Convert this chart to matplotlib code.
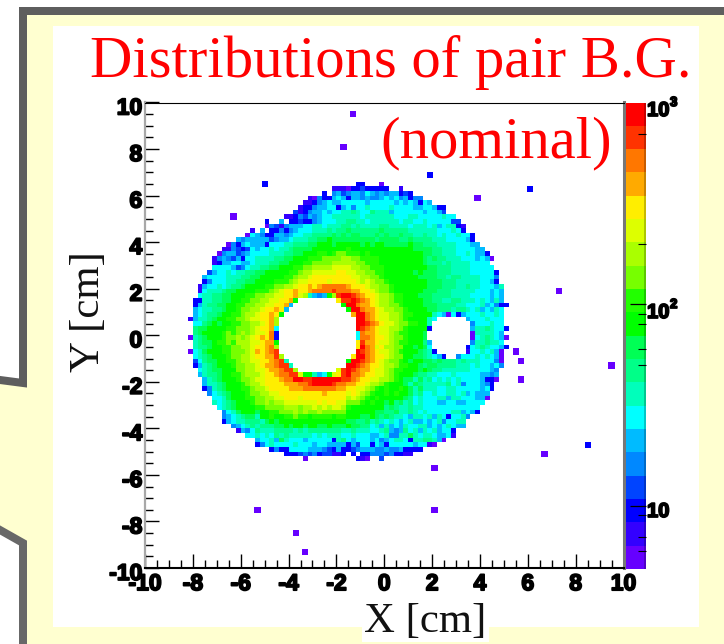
import numpy as np
import matplotlib
matplotlib.use("Agg")
import matplotlib.pyplot as plt
import matplotlib.patheffects as pe
from matplotlib.colors import ListedColormap, LogNorm
from matplotlib.patches import Polygon, Rectangle
from matplotlib.lines import Line2D
from matplotlib.transforms import ScaledTranslation

W, H = 724, 644

# ---- data: colour band of each histogram cell ---------------------------
# a (lowest band) ... t (highest band), '.' = empty bin
band_codes = "abcdefghijklmnopqrst"
band_colors = ["#6600ff", "#3300ff", "#0000ff", "#0044ff", "#0088ff", "#00bbff", "#00ffff",
               "#00ffbb", "#00ff88", "#00ff55", "#00ff00", "#22ff00", "#77ff00", "#aaff00",
               "#ddff00", "#ffee00", "#ffaa00", "#ff7700", "#ff3300", "#ff0000"]
z_min, z_max = 4.88, 1000.0

# first occupied column of each left-hand row (column 0 is x = -8.2 cm)
left_first = [0, 30, 28, 25, 24, 23, 22, 20, 16, 16, 13, 12, 10, 8, 7, 6, 5, 5, 5, 4,
              3, 3, 2, 2, 2, 1, 1, 1, 1, 0, 1, 1, 1, 0, 1, 1, 0, 1, 1, 1,
              2, 2, 3, 3, 3, 4, 5, 5, 6, 7, 7, 7, 9, 10, 12, 14, 14, 17, 20, 24]
left_rows = [
    "", "bbb", "c.efd", "baeccfgf", "bbcefgffg", "bcceffggcf", "dbceffgfggh", "bbcedfefgghhh",
    "c..f.ccdccefggghh", "aedbefffgghhghhhi", "b.f.ccecefggghhhihii", "agfeccffefgghhiiiijij",
    "fefffffdeffghhhiijjkjjj", "aecfgfffcggghhiiijjkkkjkk", "bbedcdgfgghghhijjjjkkkkkkk",
    "aeffdefgggghhhiijjkkkllklmm", "befedfcgghhhhiijjkkklllmmmmn", "bcffggffghhhiijjkkkllmmmmnnn",
    "ggggfdeghhiijjkkkllmmnnnnooo", "dfgghghhiijjkkkkkllmnnooooopp",
    "fgggghhhiijjkkkkkllmnnoppppppp", "ceggghhiijjkkkklllmnooppppoppp",
    "bfgghghiijkkkkllmmnnoppqpqrrrrr", "bghhhijjkkkklllmnoppqppqrrrrsrr",
    "ghhiijjkkkllmmnnoopp" + "qonhfefknst", "cchhiijjkkllmmnnoopp" + "qk........ps",
    "cfhiijjkkllmmnnooppq" + "f..........k", "fghhiijkklmmnnoppqpf", "fghiijkkllmnnoppqpk",
    "bfhhijkkllmmnooppqn", "ggijkjkkllmmnnopqn", "ijjkkkkllmmmnoppqg", "ijkkkklmlmnmnooprc",
    "ahijkkklmmnmnopqprc", "hijjkllmlnnnoopqqk", "hiijkkllmmnnoppqrn", "aghjkkkllmmmnoqpqrs",
    "ghijkkklmmnnoppqqsn", "dgijjkkllmnnooppqrsh", "cfhijkkklmmnnopqqrssh",
    "ghijjkkkmmnnoopqqrss" + "n........os", "fhiijkkllmnnnoppqrrs" + "sokkhfgkops",
    "fhijkkklmmnoopppqrrt" + "tsstttttts", "fhhijkkklmnnoppppqqqrrsttttsrr",
    "cehijkkkllmnnoppppqqqrrrrrrrqq", "eghijkkklmmnnooppppp" + "ppppqpppp",
    "gghjkkkllmmnnoopppop" + "pppppppp", "hghijkkklmmnmnnooooo" + "oopoppoo",
    "ghijkkkkllmmmmnnnmnn" + "ononoon", "eghjkkkjkkllmmmnmnmm" + "nmmmmm",
    "efghijjhkklkkllmllkl" + "lllkll", "cfghhiiihjkjkkkkkkkk" + "kkkkkk",
    "efghihiiijjkjkkjkkjj" + "kjjj", "bfegihhhiiiihihiiiii" + "iih", "gghghgihihhhhhghghhh" + "g",
    "fgghfjhgggfgggggchi", "ceghgggghgggfggffff", "ceccggggfffedcfc", "cccdedecddbbc", "a",
]
# right-hand rows start at column 33
right_rows = [
    "..cc...a", "accdccccc..b", "effegfefeffcdc", "cffefeefgfgefcee", "ggggfgggggfgfgfcgf",
    "geggh" + "ggggh" + "ggggf" + "fggfcc", "hihggihhhfggggggfggfd", "hhhghhhhhhggghhggggghgg",
    "iihhghhhhhhghhgghgggggdd", "ihihhhhiihhhhghhhghfghhcb", "jiiiiiijiiiiihhhhhhggghgc",
    "ijjiiijijiijiihhihhghgghggc", "jjjjjjijjjjiijiiiihhhggggfc", "kkkjkjkkjjjjjkjjiiihhhhgggff",
    "lkkkkkkkkkkkkkjjjjiihhhggggff", "lllklkkkkkkkkkkkjjiihhhgghgffc",
    "nmmllllkkkkkkkkkjijiihhhgggfgfa", "nnmmlllkkkkkkkkkjiiihihhhhgggg",
    "onnmmlllkkkkkkkkkjjiiihhhhggggg", "oonnmmllkkkkkkjkjjjiiihhhhgggggc",
    "poonnmmlkkkkkkkjjjjiihiihhhhggge", "ppononmmlkkkkkkkkjjjiiihhhhhggfc",
    "qppponnmmlkkkkkkkjjjiiihhihhgggfh", "rqqpponmmlkkkkkkjjjiiihhhhhgggfgf",
    "tsrqpponnmllkkkjjjiiiihhhhggggfgf", "stsrqponnmllkkkkjjiihhiihhhghgfhf",
    "ttrqqponnmmlkkkkjjjiiiihhggghfgecc", "kttrqqponnmmlkkkkjjiiihiihghfgfhg",
    ".qttrqpoon" + "nmllkkkkhg" + "fagcfg" + "gghgghg",
    "..ttrqpoon" + "nmlkkkkhg" + "......" + "f" + "ggghggg",
    "..ttsrqpoonmmllkkh" + "........" + "eggghgg",
    "..tsrqpoon" + "nmlkkkkc" + "........" + "fhhihggc",
    "..grqqpoonmllkkkj" + "........." + "ahhhhgf",
    "..grrqpponmmlkkkj" + "........." + "aghihgfa",
    "..psqqpoon" + "mllkkkif" + "........" + "ehhihhg",
    "..ptrqopnn" + "mmkkjkjg" + "......." + "c" + "ghihggfc",
    "..tsrqpoon" + "mlkkkjihc" + "......" + "bgghghfa",
    ".pttrqppon" + "mmkkjjihgf" + "c..eg" + "gghghgfa",
    "kttsrqponmmlkjkkjjijiiihihhhggge" + "a", "ttsrqpponnmllkkjijjiiiihhhghggfge",
    "tsrqqpoonmllkkkjkjiihhhhhhggggfe", "trrqppoonmlkkkjiihhggghgggggffef",
    "srqppoonnmlkjjhjhighghghggggfcca", "qqpponnmlkkkjhjihhhhhighegggfec",
    "ppoonmlklkklkjhjhhhgghhgggggfgc", "oponmlkklklkkjhigghgghhghfgfff",
    "nonmlklkkkkkjighggghhfhhgggffa", "mmmlklkkjkijhighgggffggffgggg",
    "lkkkkkkkijihhihhgggggggggggg", "kkkkkkjjiijhhihghggggghhfgfc",
    "kkkjjkjijihhgfhhghfhgcgghe", "jjiijhihghgfghffgfghegghh", "kjjiighfhfgfhgghhfgfghgff",
    "hihhhgghifefighfhghfggc", "ghgggffgheehhjhghhgffgb", "gfgggfgefghhgchhiihfa",
    "cfdggcgfcgggggfggba", "cdefffeefeefcccc", ".c.cceeedeccbb", "..cba..d",
]
# isolated single hits outside the main blob
outlier_x = [-1.3, -1.7, -5.0, -6.3, 1.9, 6.1, 3.9, 7.3, 5.5, 5.7, 9.5, 5.7, 8.5, 6.7, 2.1, 2.1, -5.3, -3.7, -3.3]
outlier_y = [9.5, 8.1, 6.5, 5.1, 6.9, 6.3, 5.9, 1.9, -0.7, -1.1, -1.3, -1.9, -4.7, -5.1, -5.7, -7.5, -7.5, -8.5, -9.3]
outlier_band = list("aacaccaaaaaacaaaaaa")

axis_ticks = [-10, -8, -6, -4, -2, 0, 2, 4, 6, 8, 10]
cbar_major = [10, 100]
cbar_minor = [6, 7, 9, 50, 60, 80, 90, 200, 700]

# ---- build the 100 x 100 histogram ----
log_edges = np.linspace(np.log10(z_min), np.log10(z_max), len(band_codes) + 1)
band_value = {c: 10 ** ((log_edges[i] + log_edges[i + 1]) / 2) for i, c in enumerate(band_codes)}
counts = np.full((100, 100), np.nan)
for row, (first, left, right) in enumerate(zip(left_first, left_rows, right_rows)):
    ky = 82 - row
    for start, text in ((first, left), (33, right)):
        for col, ch in enumerate(text):
            if ch != ".":
                counts[ky, 9 + start + col] = band_value[ch]

edges = np.linspace(-10, 10, 101)
cmap = ListedColormap(band_colors)
norm = LogNorm(vmin=z_min, vmax=z_max)

# ---- figure ----
fig = plt.figure(figsize=(W / 100, H / 100), dpi=100, facecolor="white")


def px_axes(x0, y0, x1, y1, **kw):
    return fig.add_axes([x0 / W, 1 - y1 / H, (x1 - x0) / W, (y1 - y0) / H], **kw)


# slide background
bg = fig.add_axes([0, 0, 1, 1], zorder=-1)
bg.set_xlim(0, W)
bg.set_ylim(H, 0)
bg.axis("off")
bg.add_patch(Polygon([(23, 11), (W, 11), (W, H), (23, H), (23, 543), (0, 530), (0, 380), (23, 383)],
                     closed=True, fc="#ffffd0", ec="none"))
gray = "#5e5e5e"
lw8 = 8 * 0.72
bg.add_line(Line2D([W, 23, 23, 0], [11, 11, 383, 380], color=gray, lw=lw8, solid_joinstyle="miter"))
bg.add_line(Line2D([0, 23, 23], [530, 543, H], color="#686868", lw=lw8, solid_joinstyle="miter"))
bg.add_patch(Rectangle((53, 26), 646, 601, fc="white", ec="none"))
bg.add_patch(Rectangle((362, 600), 127, 42, fc="white", ec="none"))

# histogram panel
ax = px_axes(145, 102.5, 623.5, 568)
ax.pcolormesh(edges, edges, np.ma.masked_invalid(counts), cmap=cmap, norm=norm, shading="flat")
ax.scatter(outlier_x, outlier_y, c=[band_value[b] for b in outlier_band], cmap=cmap, norm=norm,
           marker="s", s=(6.2 * 0.72) ** 2, linewidths=0)
ax.set_xlim(-10, 10)
ax.set_ylim(-10, 10)
ax.set_xticks(axis_ticks)
ax.set_yticks(axis_ticks)
ax.set_xticklabels([str(t) for t in axis_ticks])
ax.set_yticklabels([str(t) for t in axis_ticks])
minor = [t for t in np.arange(-10, 10.01, 0.5) if t not in axis_ticks]
ax.set_xticks(minor, minor=True)
ax.set_yticks(minor, minor=True)
ax.tick_params(which="major", direction="in", length=10.3, width=1.0, color="black", pad=3)
ax.tick_params(which="minor", direction="in", length=5.6, width=1.0, color="black")
ax.tick_params(axis="y", which="both", pad=2)
for name, col, lw in (("left", "#a8a8a8", 1.6), ("top", "black", 0.8), ("bottom", "black", 1.5), ("right", "#777777", 2.2)):
    ax.spines[name].set_color(col)
    ax.spines[name].set_linewidth(lw)

tick_font = dict(family="Liberation Sans", weight="bold", size=16.5)
stroke = [pe.withStroke(linewidth=1.3, foreground="black")]
for lab in ax.get_xticklabels() + ax.get_yticklabels():
    lab.set(**tick_font)
    lab.set_path_effects(stroke)
for lab in ax.get_yticklabels():
    lab.set_transform(lab.get_transform() + ScaledTranslation(0, -3 / 100, fig.dpi_scale_trans))

# colour scale
cax = px_axes(626, 102.5, 646, 569)
sm = plt.cm.ScalarMappable(norm=norm, cmap=cmap)
cb = fig.colorbar(sm, cax=cax)
cb.outline.set_visible(False)
cax.set_yticks(cbar_major)
cax.set_yticklabels([""] * len(cbar_major))
cax.set_yticks(cbar_minor, minor=True)
cax.set_yticklabels([""] * len(cbar_minor), minor=True)
cax.tick_params(which="major", direction="in", length=11.5, width=0.9, color="black", right=True)
cax.tick_params(which="minor", direction="in", length=5.6, width=0.8, color="black", right=True)
cax.add_patch(Rectangle((0.9, 0), 0.1, 1, transform=cax.transAxes, fc="black", alpha=0.22, ec="none"))


def fig_text(px, py, s, **kw):
    return fig.text(px / W, 1 - py / H, s, **kw)


cbar_font = dict(family="Liberation Sans", weight="bold", size=14.5)
for px, py, s, sup in ((647, 116, "10", "3"), (647, 318, "10", "2"), (647, 517, "10", None)):
    fig_text(px, py, s, path_effects=stroke, va="baseline", **cbar_font)
    if sup:
        fig_text(px + 23, py - 10, sup, family="Liberation Sans", weight="bold", size=9.5,
                 path_effects=stroke, va="baseline")

serif = dict(family="Liberation Serif")
fig_text(90, 77, "Distributions of pair B.G.", color="#ff0000", size=42.2, ha="left", va="baseline", **serif)
fig_text(380, 157, "(nominal)", color="#ff0000", size=42.2, ha="left", va="baseline", **serif)
fig_text(364, 632, "X [cm]", color="#111111", size=30.8, ha="left", va="baseline", **serif)
fig_text(99, 372, "Y [cm]", color="#111111", size=30.8, ha="left", va="baseline", rotation=90,
         rotation_mode="anchor", **serif)

fig.savefig("out.png", dpi=100, facecolor="white")
